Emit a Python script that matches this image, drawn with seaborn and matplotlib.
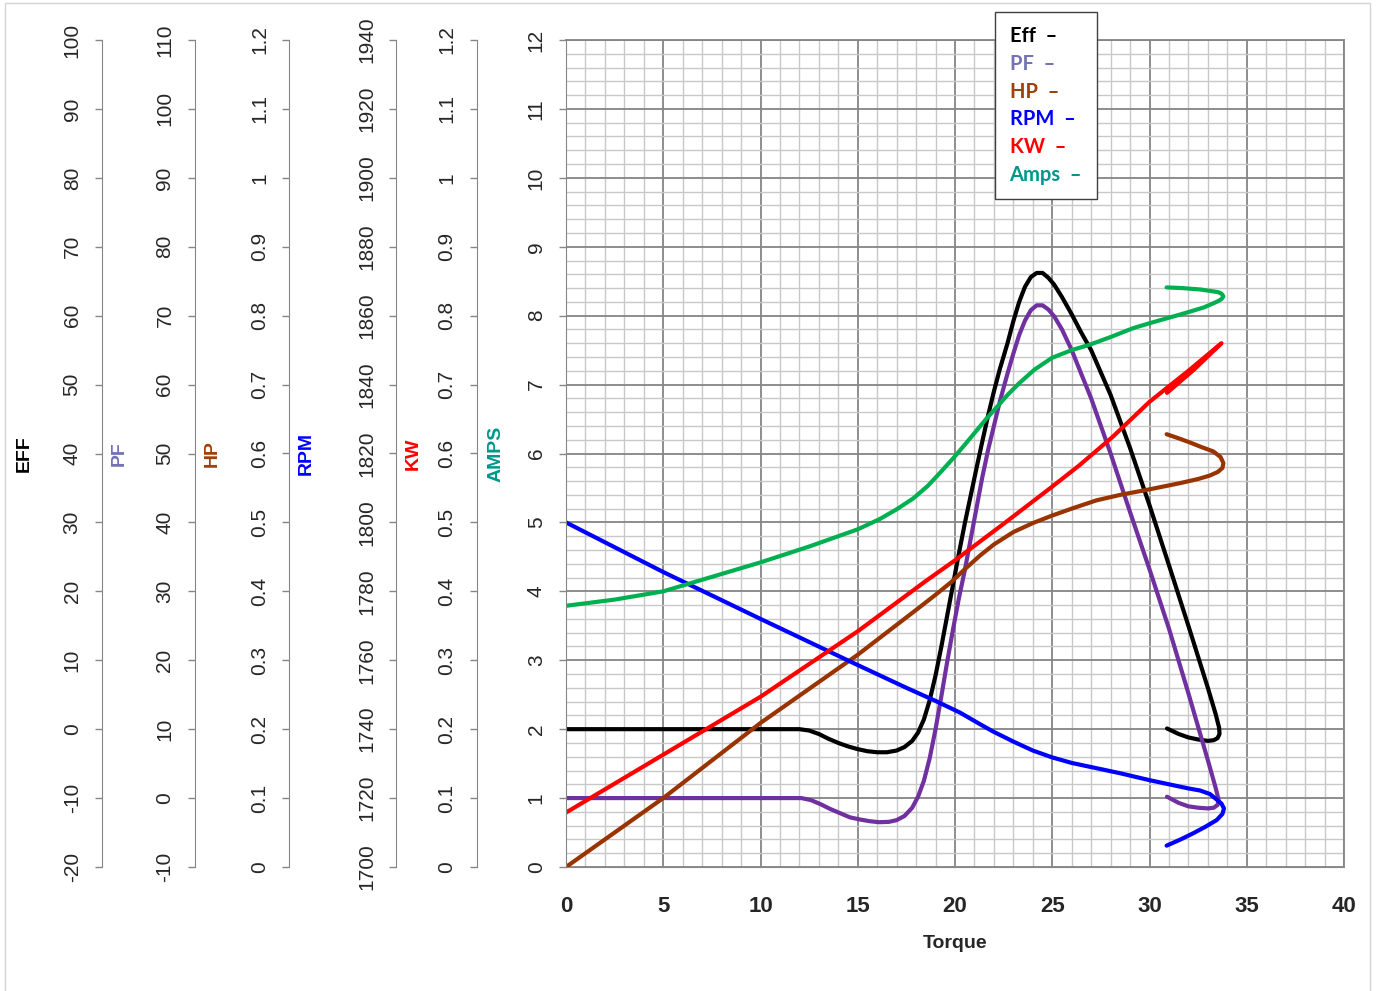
import numpy as np
import matplotlib
matplotlib.use("Agg")
import matplotlib.pyplot as plt
from matplotlib.lines import Line2D
from matplotlib.patches import Rectangle
from matplotlib.ticker import MultipleLocator
import seaborn as sns

sns.set_style("white")
plt.rcParams["font.family"] = ["Liberation Sans", "DejaVu Sans"]

# ─── Data ────────────────────────────────────────────────────────────────────
torque_eff = [0, 6, 12, 12.5, 13.0, 13.5, 14.0, 14.5, 15.0, 15.5,
              16.0, 16.5, 17.0, 17.4, 17.8, 18.1, 18.4, 18.7, 19.0, 19.3,
              19.6, 19.9, 20.2, 20.5, 20.8, 21.1, 21.4, 21.7, 22.0, 22.3,
              22.7, 23.0, 23.3, 23.6, 23.9, 24.2, 24.5, 24.8, 25.1, 25.5,
              26.0, 26.5, 27.0, 28.0, 29.0, 30.0, 31.0, 32.0, 33.0, 33.4,
              33.58, 33.6, 33.5, 33.3, 33.0, 32.5, 32.0, 31.5, 30.9]
eff_pct = [0, 0, 0, -0.2, -0.7, -1.4, -2.0, -2.5, -2.9, -3.2,
           -3.35, -3.35, -3.1, -2.6, -1.7, -0.5, 1.4, 4.2, 7.8, 12.0,
           16.5, 21.0, 25.5, 29.8, 33.8, 37.8, 41.7, 45.5, 49.0, 52.2,
           56.0, 59.2, 62.0, 64.2, 65.6, 66.2, 66.2, 65.5, 64.5, 62.7,
           60.2, 57.5, 55.0, 48.5, 40.8, 32.5, 23.8, 15.0, 6.0, 2.2,
           0.2, -0.7, -1.3, -1.6, -1.7, -1.5, -1.2, -0.7, 0.1]

torque_pf = [0, 6, 12.1, 12.6, 13.1, 13.6, 14.1, 14.6, 15.1, 15.6,
             16.1, 16.6, 17.0, 17.4, 17.8, 18.1, 18.4, 18.7, 19.0, 19.3,
             19.6, 19.9, 20.2, 20.5, 20.8, 21.1, 21.4, 21.7, 22.0, 22.3,
             22.7, 23.0, 23.3, 23.6, 23.9, 24.2, 24.5, 24.8, 25.1, 25.5,
             26.0, 26.5, 27.0, 28.0, 29.0, 30.0, 31.0, 32.0, 33.0, 33.4,
             33.55, 33.5, 33.3, 33.0, 32.5, 32.0, 31.5, 30.9]
pf_pct = [0, 0, 0, -0.3, -0.9, -1.6, -2.2, -2.8, -3.1, -3.35,
          -3.5, -3.45, -3.2, -2.6, -1.4, 0.2, 2.5, 5.8, 10.0, 14.8,
          19.8, 24.5, 29.0, 33.0, 37.5, 42.0, 46.5, 50.5, 54.0, 57.5,
          61.6, 64.5, 67.2, 69.3, 70.8, 71.5, 71.5, 70.9, 69.9, 68.0,
          65.0, 61.5, 58.0, 50.0, 41.5, 33.2, 24.6, 15.2, 5.5, 1.5,
          -0.2, -1.0, -1.4, -1.5, -1.4, -1.2, -0.7, 0.2]

torque_hp = [0, 5, 10, 15, 18, 19.0, 19.83, 20.5, 21.29, 22,
             23, 24, 25, 26, 27.27, 28.5, 30, 31.57, 32.5, 33.1,
             33.5, 33.75, 33.8, 33.65, 33.28, 32.7, 32.08, 31.5, 30.88]
hp = [0, 0.1, 0.209, 0.308, 0.373, 0.395, 0.414, 0.432, 0.452, 0.468,
      0.486, 0.499, 0.51, 0.52, 0.532, 0.54, 0.548, 0.557, 0.563, 0.568,
      0.573, 0.579, 0.586, 0.595, 0.603, 0.609, 0.616, 0.622, 0.628]

torque_rpm = [0, 5, 10, 15, 17.5, 19, 20.26, 21.3, 22, 23,
              24, 25, 26, 27, 28.5, 30, 31, 32, 32.6, 33.1,
              33.45, 33.7, 33.83, 33.75, 33.45, 32.85, 32.25, 31.6, 30.88]
rpm = [1800, 1785.6, 1772, 1758.6, 1752, 1748.2, 1744.8, 1741.4, 1739.2, 1736.4,
       1733.8, 1731.8, 1730.2, 1729, 1727.2, 1725.2, 1724, 1722.8, 1722.2, 1721.2,
       1719.6, 1718.4, 1717, 1715.4, 1713.6, 1711.6, 1709.8, 1708, 1706.2]

torque_kw = [0, 5, 10, 15, 18.5, 20, 22.5, 25, 26.4, 28.1, 30, 32, 33.7, 32.3, 30.9]
kw = [0.079, 0.163, 0.247, 0.342, 0.415, 0.445, 0.498, 0.552, 0.583, 0.624, 0.675, 0.72, 0.76,
      0.722, 0.688]

torque_amps = [0, 2.5, 5, 7.5, 10, 12.5, 15, 16.14, 17.0, 17.86,
               18.6, 19.23, 20, 20.6, 21.1, 21.6, 22.14, 22.7, 23.3, 24.1,
               25, 26, 26.94, 28, 29.17, 30, 31.74, 32.8, 33.45, 33.7,
               33.8, 33.7, 33.54, 33.1, 32.6, 31.7, 30.88]
amps = [3.79, 3.88, 4.0, 4.21, 4.42, 4.65, 4.90, 5.05, 5.19, 5.35,
        5.53, 5.72, 5.96, 6.16, 6.33, 6.50, 6.67, 6.85, 7.02, 7.22,
        7.39, 7.50, 7.58, 7.69, 7.82, 7.89, 8.03, 8.12, 8.2, 8.24,
        8.28, 8.32, 8.34, 8.36, 8.38, 8.40, 8.41]

legend_names = ["Eff", "PF", "HP", "RPM", "KW", "Amps"]

# ─── Styles ──────────────────────────────────────────────────────────────────
GRID_MAJOR = "#858585"
GRID_MINOR = "#c8c8c8"
AXIS_GRAY = "#868686"
LABEL_COLORS = ["black", "#7373b3", "#a0400a", "#0000ff", "#ff0000", "#00968c"]
LINE_COLORS = ["black", "#7030a0", "#993300", "#0000ff", "#ff0000", "#00b050"]

W, H = 1376, 991
fig = plt.figure(figsize=(W / 100, H / 100), dpi=100)
ax = fig.add_axes([566 / W, (H - 867) / H, 778 / W, 827 / H])

# main axes: grid + torque axis
ax.set_xlim(0, 40)
ax.set_ylim(0, 12)
ax.xaxis.set_major_locator(MultipleLocator(5))
ax.xaxis.set_minor_locator(MultipleLocator(1))
ax.yaxis.set_major_locator(MultipleLocator(1))
ax.yaxis.set_minor_locator(MultipleLocator(0.2))
ax.grid(which="minor", color=GRID_MINOR, lw=1.0)
ax.grid(which="major", color=GRID_MAJOR, lw=1.3)
ax.set_axisbelow(True)
for s in ("top", "right"):
    ax.spines[s].set_color(GRID_MAJOR)
    ax.spines[s].set_linewidth(1.3)
ax.spines["bottom"].set_color(AXIS_GRAY)
ax.spines["left"].set_visible(False)
ax.set_xlabel("Torque", fontsize=14, fontweight="bold", va="center")
ax.xaxis.set_label_coords(0.5, -0.0925)


def side_axis(spine_frac):
    tw = ax.twinx()
    tw.yaxis.tick_left()
    tw.yaxis.set_label_position("left")
    for s in ("right", "top", "bottom"):
        tw.spines[s].set_visible(False)
    tw.spines["left"].set_visible(True)
    tw.spines["left"].set_position(("axes", spine_frac))
    tw.spines["left"].set_color(AXIS_GRAY)
    return tw


def finish_axis(tw, lo, hi, name, color, label_frac):
    tw.set_ylim(lo, hi)
    ticks = np.linspace(lo, hi, 13)
    tw.set_yticks(ticks)
    tw.set_yticklabels([f"{t:g}" for t in ticks], rotation=90, va="center", fontsize=15)
    tw.tick_params(axis="y", which="major", direction="out", length=5, width=1,
                   color=AXIS_GRAY, pad=9.5)
    tw.set_ylabel(name, color=color, fontsize=14, fontweight="bold", ha="center", va="center")
    tw.yaxis.set_label_coords(label_frac, 0.5)


axes_spec = [
    # spine pos, lo, hi, name, label pos, torque, values
    (-0.5967, -20, 100, "EFF", -0.6967, torque_eff, eff_pct),
    (-0.4774, -10, 110, "PF", -0.5746, torque_pf, pf_pct),
    (-0.3557, 0, 1.2, "HP", -0.4550, torque_hp, hp),
    (-0.2180, 1700, 1940, "RPM", -0.3342, torque_rpm, rpm),
    (-0.1147, 0, 1.2, "KW", -0.1959, torque_kw, kw),
    (0.0, 0, 12, "AMPS", -0.0900, torque_amps, amps),
]

for i, (pos, lo, hi, name, lab, tx, ty) in enumerate(axes_spec):
    tw = side_axis(pos)
    sns.lineplot(x=tx, y=ty, ax=tw, sort=False, estimator=None, color=LINE_COLORS[i],
                 lw=3, solid_capstyle="round", solid_joinstyle="round")
    finish_axis(tw, lo, hi, name, LABEL_COLORS[i], lab)

# twins share the x axis; reset limits/locators and hide the host's y ticks
ax.set_xlim(0, 40)
ax.xaxis.set_major_locator(MultipleLocator(5))
ax.xaxis.set_minor_locator(MultipleLocator(1))
ax.tick_params(axis="y", which="both", left=False, right=False,
               labelleft=False, labelright=False, length=0)
ax.tick_params(axis="x", which="minor", bottom=False)
ax.tick_params(axis="x", which="major", direction="out", length=5, width=1,
               color=AXIS_GRAY, pad=16, labelsize=16)
for lbl in ax.get_xticklabels():
    lbl.set_fontweight("bold")

# ─── Legend (text + dash, Excel style) ───────────────────────────────────────
handles = [Line2D([], [], lw=0) for _ in legend_names]
leg = fig.legend(handles, [f"{n}  \u2013" for n in legend_names],
                 loc="upper left", bbox_to_anchor=(995 / W, (H - 12) / H),
                 borderaxespad=0, handlelength=0, handletextpad=0,
                 labelcolor=LABEL_COLORS, labelspacing=0.38, borderpad=0.72,
                 fancybox=False, framealpha=1,
                 prop={"family": ["Lato", "DejaVu Sans"], "weight": "bold", "size": 14.5})
leg.get_frame().set_edgecolor("#404040")
leg.get_frame().set_linewidth(1)

# light outer border
fig.patches.append(Rectangle((5 / W, -0.01), (1370 - 5) / W, 1.0 - 3 / H + 0.01,
                             transform=fig.transFigure, fill=False,
                             ec="#d4d4d4", lw=1))

fig.savefig("out.png", dpi=100)
